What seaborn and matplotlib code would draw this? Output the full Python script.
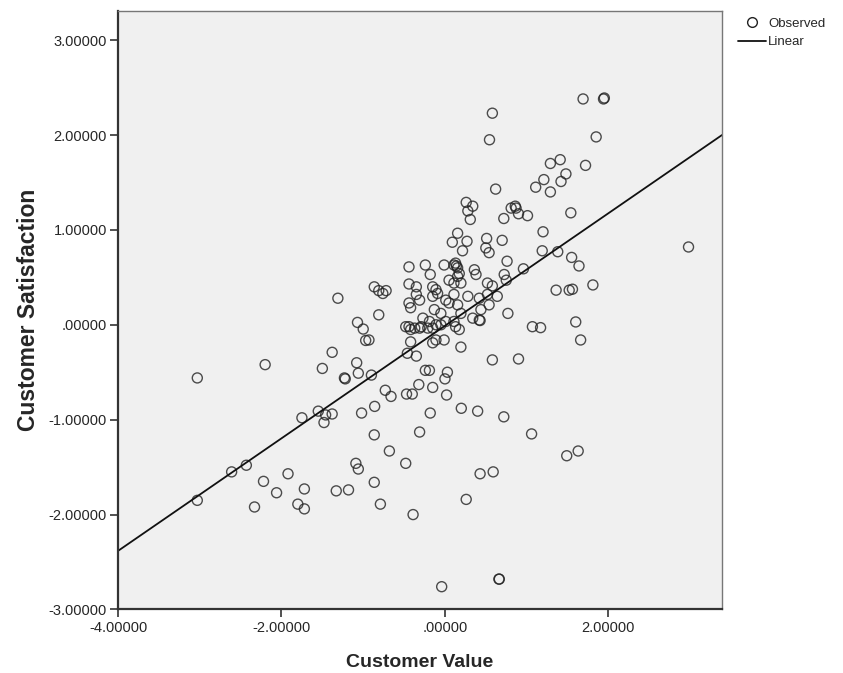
import matplotlib
matplotlib.use("Agg")
import matplotlib.pyplot as plt
from matplotlib.lines import Line2D
from matplotlib.ticker import FuncFormatter, FixedLocator
import numpy as np
import pandas as pd
import seaborn as sns

# Customer Value (x) and Customer Satisfaction (y)
customer_value = [
    1.69, 1.94, 1.95, 0.58, 0.545, 1.85, 1.29, 1.41, 1.48, 1.42, 1.72, 1.21, 1.11, 1.29, 0.62,
    0.26, 0.28, 0.34, 0.31, 1.54, 0.81, 0.86, 0.87, 0.90, 1.01, 0.72,
    1.20, 2.98, 1.19, 1.38, 1.55, 1.64, 0.155, 0.09, 0.27, 0.215, 0.51, 0.70, 0.50, 0.54, 0.76, 0.96,
    -0.44, -0.24, -0.18, -0.01, 0.11, 0.13, 0.14, 0.155, 0.175, 0.36, 0.38, 0.725, 0.75, 0.195,
    0.52, 0.58, 0.05, 0.11, 0.155, -0.44, -0.35, -0.15, -0.11,
    -1.31, -0.865, -0.81, -0.76, -0.72, -0.81, -1.07, -1.0, -0.97,
    -0.35, -0.31, -0.44, -0.42, -0.15, -0.09, -0.13, -0.05, 0.01, 0.05, -0.27, -0.19, -0.11, -0.31,
    -0.21, 0.01, 0.11, -0.44, -0.37,
    0.11, 0.28, 0.155, 0.195, 0.42, 0.52, 0.54, 0.64, 0.44, 0.42, 0.34, 0.77, 1.07, 1.17, 1.81,
    1.36, 1.52, 1.56, 1.60, 1.66,
    -0.48, -0.42, -0.29, -0.15, -0.05, 0.13, -0.93, -0.42, -0.15, -0.11, -0.01, 0.175, 0.195, 0.43,
    -0.46, -0.35, 0.58, 0.90,
    -3.03, -2.20, -1.38, -1.50, -1.23, -1.22, -1.08, -1.06, -0.90, -0.73, -0.66, -0.86, -1.02, -0.68,
    -0.865, -1.09, -1.06, -0.865, -0.79, -1.75, -1.55, -1.46, -1.38, -1.48, -2.43, -2.61, -3.03,
    -2.22, -1.92, -2.06, -2.33, -1.72, -1.80, -1.72, -1.33, -1.18,
    -0.24, -0.19, 0.03, 0.0, -0.15, -0.32, -0.47, -0.40, 0.02, -0.18, 0.20, 0.40, 0.72, -0.31, 1.06,
    1.49, 1.63, -0.48, 0.43, 0.59, 0.26, -0.39, -0.04, 0.66, 0.665,
]
customer_satisfaction = [
    2.38, 2.38, 2.39, 2.23, 1.95, 1.98, 1.70, 1.74, 1.59, 1.51, 1.68, 1.53, 1.45, 1.40, 1.43,
    1.29, 1.20, 1.25, 1.11, 1.18, 1.23, 1.25, 1.23, 1.17, 1.15, 1.12,
    0.98, 0.82, 0.78, 0.77, 0.71, 0.62, 0.965, 0.87, 0.88, 0.78, 0.91, 0.89, 0.81, 0.76, 0.67, 0.59,
    0.61, 0.63, 0.53, 0.63, 0.63, 0.65, 0.62, 0.60, 0.54, 0.58, 0.53, 0.53, 0.47, 0.44,
    0.44, 0.41, 0.47, 0.44, 0.51, 0.43, 0.40, 0.40, 0.37,
    0.28, 0.40, 0.36, 0.33, 0.36, 0.105, 0.025, -0.045, -0.165,
    0.32, 0.26, 0.23, 0.18, 0.30, 0.33, 0.16, 0.12, 0.26, 0.23, 0.07, 0.035, 0.0, -0.035,
    -0.035, 0.035, 0.035, -0.02, -0.035,
    0.32, 0.30, 0.21, 0.12, 0.28, 0.32, 0.21, 0.30, 0.16, 0.05, 0.07, 0.12, -0.02, -0.03, 0.42,
    0.365, 0.365, 0.375, 0.03, -0.16,
    -0.02, -0.05, -0.02, -0.035, 0.0, -0.02, -0.16, -0.18, -0.19, -0.16, -0.16, -0.05, -0.235, 0.045,
    -0.30, -0.33, -0.37, -0.36,
    -0.56, -0.42, -0.29, -0.46, -0.56, -0.57, -0.40, -0.51, -0.53, -0.69, -0.755, -0.86, -0.93, -1.33,
    -1.16, -1.46, -1.52, -1.66, -1.89, -0.98, -0.91, -0.95, -0.94, -1.03, -1.48, -1.55, -1.85,
    -1.65, -1.57, -1.77, -1.92, -1.73, -1.89, -1.94, -1.75, -1.74,
    -0.48, -0.48, -0.50, -0.57, -0.66, -0.63, -0.73, -0.73, -0.74, -0.93, -0.88, -0.91, -0.97, -1.13, -1.15,
    -1.38, -1.33, -1.46, -1.57, -1.55, -1.84, -2.0, -2.76, -2.68, -2.68,
]

x_ticks = [-4.0, -2.0, 0.0, 2.0]
y_ticks = [-3.0, -2.0, -1.0, 0.0, 1.0, 2.0, 3.0]

df = pd.DataFrame({"Customer Value": customer_value,
                   "Customer Satisfaction": customer_satisfaction})

sns.set_style("white")
plt.rcParams["font.family"] = ["Liberation Sans", "DejaVu Sans"]

fig = plt.figure(figsize=(8.43, 6.73), dpi=100)
ax = fig.add_axes([0.140, 0.0944, 0.7165, 0.8897])
ax.set_facecolor("#F0F0F0")
ax.set_xlim(-4.0, 3.39)
ax.set_ylim(-3.0, 3.31)

sns.regplot(data=df, x="Customer Value", y="Customer Satisfaction", ax=ax,
            ci=None, truncate=False,
            scatter_kws=dict(s=52, facecolors="none", edgecolors="#222222", linewidths=1.0),
            line_kws=dict(color="#111111", lw=1.3))
ax.set_xlim(-4.0, 3.39)
ax.set_ylim(-3.0, 3.31)


def fmt(v, pos=None):
    s = f"{v:.5f}"
    if abs(v) < 1:
        s = s.replace("0.", ".", 1)
    return s


ax.xaxis.set_major_locator(FixedLocator(x_ticks))
ax.yaxis.set_major_locator(FixedLocator(y_ticks))
ax.xaxis.set_major_formatter(FuncFormatter(fmt))
ax.yaxis.set_major_formatter(FuncFormatter(fmt))
ax.tick_params(axis="both", direction="out", length=6, width=1.2, color="#333333",
               labelsize=10.5, pad=2, bottom=True, left=True)

for side in ["left", "bottom"]:
    ax.spines[side].set_color("#333333")
    ax.spines[side].set_linewidth(1.6)
for side in ["top", "right"]:
    ax.spines[side].set_color("#777777")
    ax.spines[side].set_linewidth(1.0)
    ax.spines[side].set_visible(True)

ax.set_xlabel("Customer Value", fontsize=14, fontweight="bold", labelpad=14)
ax.set_ylabel("Customer Satisfaction", fontsize=16.5, fontweight="bold", labelpad=6)

handles = [
    Line2D([], [], linestyle="none", marker="o", markerfacecolor="none",
           markeredgecolor="#222222", markersize=7, markeredgewidth=1.0),
    Line2D([], [], color="#111111", lw=1.3),
]
fig.legend(handles, ["Observed", "Linear"], loc="upper left",
           bbox_to_anchor=(0.869, 0.982), frameon=False, fontsize=9.5,
           handlelength=2.1, handletextpad=0.2, labelspacing=0.5, borderaxespad=0)

fig.savefig("out.png", dpi=100)
